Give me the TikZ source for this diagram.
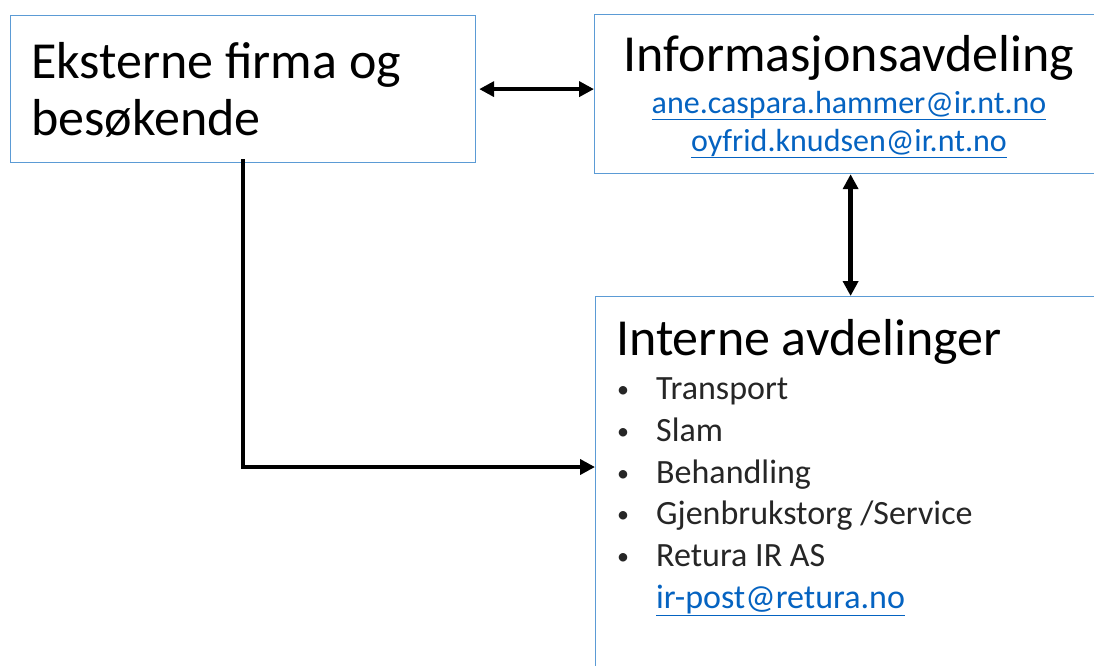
\documentclass[tikz,border=0pt]{standalone}
\usepackage{fontspec}
\setmainfont{Carlito}
\usetikzlibrary{arrows.meta, calc}
\definecolor{boxblue}{RGB}{91,155,213}
\definecolor{linkblue}{RGB}{5,99,193}
\definecolor{listgray}{RGB}{38,38,38}
\tikzset{
    box/.style={draw=boxblue, line width=1.2pt, rectangle, inner sep=0pt},
    conn/.style={line width=4.5pt, -{Triangle[length=15pt, width=15pt]}},
    dblconn/.style={line width=4.5pt,
        {Triangle[length=15pt, width=15pt]}-{Triangle[length=15pt, width=15pt]}},
    bigtxt/.style={font=\fontsize{52}{57}\selectfont, inner sep=0pt, anchor=base west},
    listtxt/.style={font=\fontsize{34}{40}\selectfont, inner sep=0pt, anchor=base west,
        text=listgray},
    mailtxt/.style={font=\fontsize{32}{38}\selectfont, inner sep=0pt, anchor=base,
        text=linkblue},
}
\newcommand{\maillink}[1]{\underline{#1}}

\begin{document}
\begin{tikzpicture}[x=1pt, y=-1pt]
        \clip (0, 0) rectangle (1094, 665);
        \fill[white] (0, 0) rectangle (1094, 665);
        % boxes
        \node[box, anchor=north west, minimum width=465pt, minimum height=147pt]
            (ext) at (10, 15) {};
        \node[box, anchor=north west, minimum width=512pt, minimum height=159pt]
            (info) at (594, 14) {};
        \node[box, anchor=north west, minimum width=520pt, minimum height=400pt]
            (intern) at (595, 296) {};
        % texts
        \node[bigtxt] (extA) at (31, 78) {Eksterne firma og};
        \node[bigtxt] (extB) at (31, 135) {besøkende};
        \node[bigtxt, anchor=base] (infoT) at (849, 71) {Informasjonsavdeling};
        \node[mailtxt] (mailA) at (849, 113) {\maillink{ane.caspara.hammer@ir.nt.no}};
        \node[mailtxt] (mailB) at (849, 151) {\maillink{oyfrid.knudsen@ir.nt.no}};
        \node[bigtxt] (internT) at (616, 355) {Interne avdelinger};
        \foreach \item [count=\i] in {Transport, Slam, Behandling,
                Gjenbrukstorg /Service, Retura IR AS} {
            \node[listtxt, font=\fontsize{24}{30}\selectfont] (bul\i)
                at (617, 356 + 41.7*\i) {•};
            \node[listtxt] (item\i) at (656, 358 + 41.7*\i) {\item};
        }
        \node[listtxt, text=linkblue] (mailC) at (656, 608) {\maillink{ir-post@retura.no}};
        % connectors
        \coordinate (inArr) at (595, 467);
        \draw[dblconn] ([xshift=3pt]ext.east) -- (ext.east -| info.west);
        \draw[dblconn] (info.south) -- (info.south |- intern.north);
        \draw[conn] ([yshift=4pt]ext.south) |- (inArr);
    \end{tikzpicture}
\end{document}
